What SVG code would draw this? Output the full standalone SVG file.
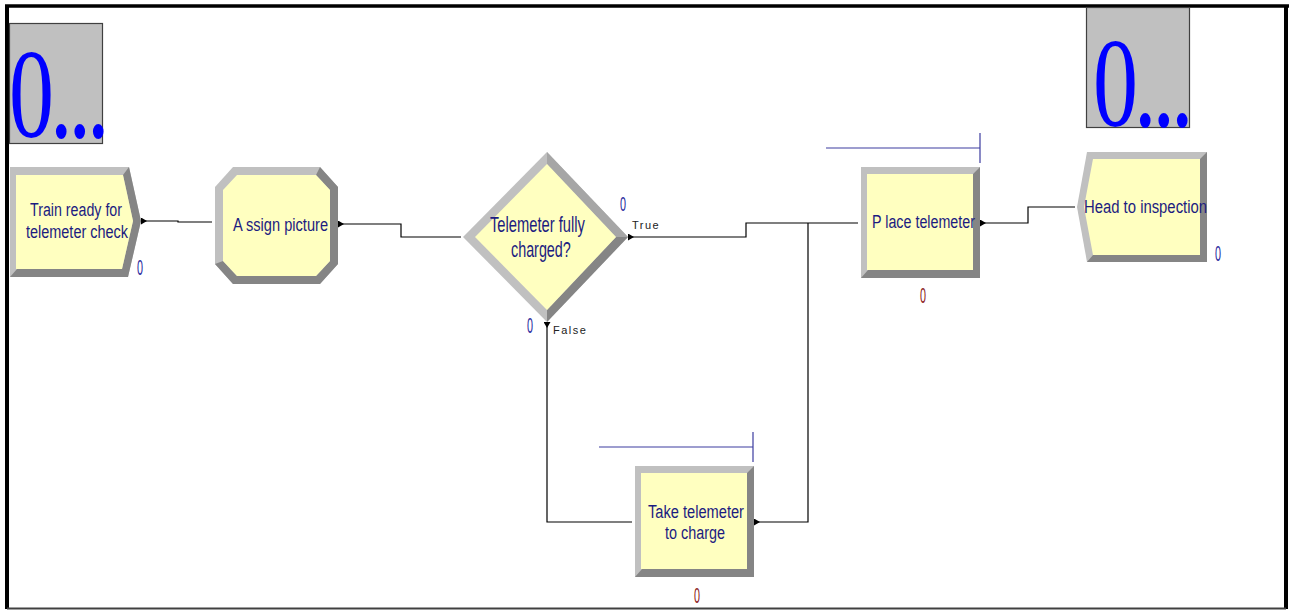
<svg xmlns="http://www.w3.org/2000/svg" width="1293" height="610" viewBox="0 0 1293 610">
<defs>
<style>
.lt{fill:#c0c0c0}
.dk{fill:#858585}
.md{fill:#a6a6a6}
.yl{fill:#ffffc0}
.nt{font-family:"Liberation Sans",Arial,sans-serif;font-size:18px;fill:#1c1c80}
.cnt{font-family:"Liberation Sans",Arial,sans-serif;font-size:22px}
.blue{fill:#1e1e9c}
.red{fill:#8a1414}
.lbl{font-family:"Liberation Sans",Arial,sans-serif;font-size:11px;fill:#222;letter-spacing:1.5px}
.big{font-family:"Liberation Serif","Times New Roman",serif;font-size:90px;fill:#0000ff;letter-spacing:-4px}
.box{fill:#c0c0c0;stroke:#404040;stroke-width:1.2}
.con{fill:none;stroke:#000;stroke-width:1.2}
.res{fill:none;stroke:#3c3ca0;stroke-width:1.2}
</style>
<marker id="arr" markerWidth="7" markerHeight="7" refX="0" refY="3.5" orient="auto" markerUnits="userSpaceOnUse">
<path d="M0,0 L6,3.5 L0,7 z" fill="#000"/>
</marker>
</defs>
<rect width="1293" height="610" fill="#fff"/>
<!-- frame -->
<g id="frame">
<line x1="5" y1="6" x2="1289" y2="6" stroke="#000" stroke-width="3.5"/>
<line x1="7" y1="5" x2="7" y2="609" stroke="#000" stroke-width="4"/>
<line x1="1286" y1="5" x2="1286" y2="609" stroke="#000" stroke-width="4"/>
<line x1="7" y1="608.5" x2="1286" y2="608.5" stroke="#404040" stroke-width="2"/>
</g>
<!-- counters -->
<g id="counter-left">
<rect class="box" x="9.5" y="23.5" width="93" height="120"/>
<text class="big" transform="translate(9,137) scale(1,1.42)" x="0" y="0">0...</text>
</g>
<g id="counter-right">
<rect class="box" x="1086.5" y="7.5" width="103" height="120"/>
<text class="big" transform="translate(1093,126) scale(1,1.42)" x="0" y="0">0...</text>
</g>
<!-- connectors -->
<g id="connectors">
<path class="con" marker-start="url(#arr)" d="M141,221 H178 V222 H212"/>
<path class="con" marker-start="url(#arr)" d="M338,224 H401 V237 H461"/>
<path class="con" marker-start="url(#arr)" d="M628,237 H746 V223 H858"/>
<path class="con" marker-start="url(#arr)" d="M547,322 V522 H632"/>
<path class="con" marker-start="url(#arr)" d="M754,522 H808 V223"/>
<path class="con" marker-start="url(#arr)" d="M980,223 H1028 V207 H1075"/>
<text class="lbl" x="632" y="229">True</text>
<text class="lbl" x="553" y="334">False</text>
</g>
<!-- node 1 -->
<g id="train-ready">
<polygon class="lt" points="10,167 129,167 141,221 128,277 10,277"/>
<polygon class="dk" points="10,277 128,277 141,221 129,167 123,175 133,221 122,269 17,269"/>
<polygon class="yl" points="16,175 123,175 133,221 122,269 16,269"/>
<text class="nt" x="30" y="216" textLength="92" lengthAdjust="spacingAndGlyphs">Train ready for</text>
<text class="nt" x="26" y="238" textLength="102" lengthAdjust="spacingAndGlyphs">telemeter check</text>
<text class="cnt blue" x="137" y="275" textLength="6" lengthAdjust="spacingAndGlyphs">0</text>
</g>
<!-- node 2 -->
<g id="assign-picture">
<polygon class="lt" points="233,167 320,167 338,187 338,264 320,284 233,284 215,264 215,187"/>
<polygon class="dk" points="320,167 338,187 338,264 320,284 233,284 215,264 223,261 237,276 316,276 330,261 330,190 316,175"/>
<polygon class="yl" points="237,175 316,175 330,190 330,261 316,276 237,276 223,261 223,190"/>
<text class="nt" x="233" y="231" textLength="95" lengthAdjust="spacingAndGlyphs">A ssign picture</text>
</g>
<!-- decision -->
<g id="telemeter-charged">
<polygon class="lt" points="547,152 628,237 547,322 463,237"/>
<polygon class="md" points="547,152 628,237 616,237 547,164"/>
<polygon class="dk" points="628,237 547,322 547,310 616,237"/>
<polygon class="yl" points="547,164 616,237 547,310 475,237"/>
<text class="nt" transform="translate(490,232) scale(0.65,1)" x="0" y="0" style="font-size:22px" textLength="146" lengthAdjust="spacingAndGlyphs">Telemeter fully</text>
<text class="nt" transform="translate(511,257) scale(0.65,1)" x="0" y="0" style="font-size:22px" textLength="92" lengthAdjust="spacingAndGlyphs">charged?</text>
<text class="cnt blue" x="620" y="211" style="font-size:21px" textLength="6" lengthAdjust="spacingAndGlyphs">0</text>
<text class="cnt blue" x="527" y="333" textLength="6" lengthAdjust="spacingAndGlyphs">0</text>
</g>
<!-- place telemeter -->
<g id="place-telemeter">
<path class="res" d="M826,148 H980 M980,133 V163"/>
<rect class="lt" x="861" y="167" width="119" height="111"/>
<polygon class="dk" points="861,278 980,278 980,167 973,174 973,270 868,270"/>
<rect class="yl" x="867" y="174" width="106" height="96"/>
<text class="nt" x="872" y="228" textLength="103" lengthAdjust="spacingAndGlyphs">P lace telemeter</text>
<text class="cnt red" x="920" y="303" textLength="6" lengthAdjust="spacingAndGlyphs">0</text>
</g>
<!-- head to inspection -->
<g id="head-inspection">
<polygon class="lt" points="1087,152 1207,152 1207,262 1087,262 1077,207"/>
<polygon class="dk" points="1207,152 1207,262 1087,262 1093,255 1200,255 1200,159"/>
<polygon class="yl" points="1093,159 1200,159 1200,255 1093,255 1084,207"/>
<text class="nt" x="1084" y="213" textLength="123" lengthAdjust="spacingAndGlyphs">Head to inspection</text>
<text class="cnt blue" x="1215" y="261" textLength="6" lengthAdjust="spacingAndGlyphs">0</text>
</g>
<!-- take telemeter -->
<g id="take-telemeter">
<path class="res" d="M599,447 H753 M753,432 V462"/>
<rect class="lt" x="635" y="466" width="119" height="111"/>
<polygon class="dk" points="635,577 754,577 754,466 747,473 747,569 642,569"/>
<rect class="yl" x="641" y="473" width="106" height="96"/>
<text class="nt" x="648" y="518" textLength="96" lengthAdjust="spacingAndGlyphs">Take telemeter</text>
<text class="nt" x="665" y="539" textLength="60" lengthAdjust="spacingAndGlyphs">to charge</text>
<text class="cnt red" x="694" y="603" textLength="6" lengthAdjust="spacingAndGlyphs">0</text>
</g>
</svg>
